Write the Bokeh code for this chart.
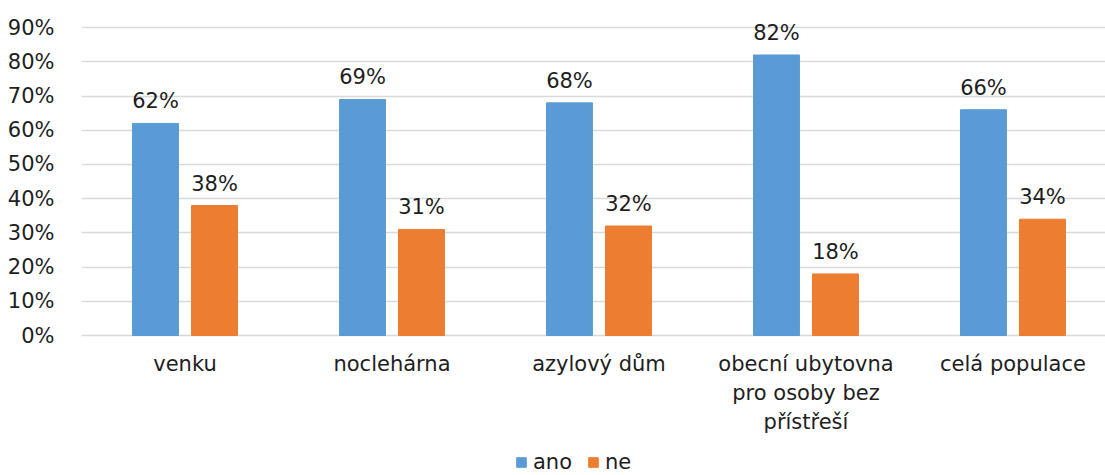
from bokeh.plotting import figure
from bokeh.models import (ColumnDataSource, Range1d, FixedTicker, Legend, LegendItem)
from bokeh.core.properties import value
from bokeh.embed import file_html
from bokeh.resources import INLINE

# --- data ---
categories = ["venku", "noclehárna", "azylový dům",
              "obecní ubytovna\npro osoby bez\npřístřeší", "celá populace"]
ano = [62, 69, 68, 82, 66]
ne = [38, 31, 32, 18, 34]
y_ticks = [0, 10, 20, 30, 40, 50, 60, 70, 80, 90]

FONT = "DejaVu Sans"
FS = "21px"
BLUE = "#5B9BD5"
ORANGE = "#ED7D31"
TEXT = "#1e1e1e"

xs = list(range(len(categories)))
offset = 0.1425
bar_w = 0.222

src_ano = ColumnDataSource(dict(
    x=[i - offset for i in xs], top=ano, lbl=[f"{v}%" for v in ano]))
src_ne = ColumnDataSource(dict(
    x=[i + offset for i in xs], top=ne, lbl=[f"{v}%" for v in ne]))
src_cat = ColumnDataSource(dict(x=xs, y=[0] * len(xs), name=categories))

# The frame reaches down to the page bottom so the category names and the
# legend sit inside it; the y range extends below 0 for that band and a bit
# above 90 % for the tallest value label.
p = figure(frame_width=1024, frame_height=465, output_backend="svg",
           toolbar_location=None,
           x_range=Range1d(-0.5, 4.447), y_range=Range1d(-40.92, 95),
           min_border_left=81, min_border_right=0, min_border_top=10,
           min_border_bottom=0)
p.outline_line_color = None
p.background_fill_color = "white"
p.border_fill_color = "white"
p.xaxis.visible = False

r_ano = p.vbar(x="x", top="top", width=bar_w, source=src_ano,
               fill_color=BLUE, line_color=BLUE)
r_ne = p.vbar(x="x", top="top", width=bar_w, source=src_ne,
              fill_color=ORANGE, line_color=ORANGE)

for src in (src_ano, src_ne):
    p.text(x="x", y="top", text="lbl", source=src,
           text_align="center", text_baseline="alphabetic",
           y_offset=-22, text_font=value(FONT), text_font_size=value(FS),
           text_color=TEXT)

# category names under the bars
p.text(x="x", y="y", text="name", source=src_cat,
       text_align="center", text_baseline="top", y_offset=16,
       text_line_height=1.22,
       text_font=value(FONT), text_font_size=value(FS), text_color=TEXT)

# y axis
p.yaxis.ticker = FixedTicker(ticks=y_ticks)
p.yaxis.major_label_overrides = {t: f"{t}%" for t in y_ticks}
p.yaxis.axis_line_color = None
p.yaxis.major_tick_line_color = None
p.yaxis.minor_tick_line_color = None
p.yaxis.major_label_standoff = 21
p.yaxis.major_label_text_font = FONT
p.yaxis.major_label_text_font_size = FS
p.yaxis.major_label_text_color = TEXT

p.xgrid.grid_line_color = None
p.ygrid.ticker = FixedTicker(ticks=y_ticks)
p.ygrid.grid_line_color = "#d9d9d9"
p.ygrid.grid_line_width = 1.5

legend = Legend(items=[LegendItem(label="ano", renderers=[r_ano]),
                       LegendItem(label="ne", renderers=[r_ne])],
                orientation="horizontal", location=(434, 1),
                glyph_width=12, glyph_height=12, label_standoff=6,
                spacing=15, padding=0, margin=0,
                border_line_color=None, background_fill_alpha=0,
                label_text_font=FONT, label_text_font_size=FS,
                label_text_color=TEXT, label_height=21)
p.add_layout(legend)

open("out.html", "w").write(file_html(p, INLINE))
